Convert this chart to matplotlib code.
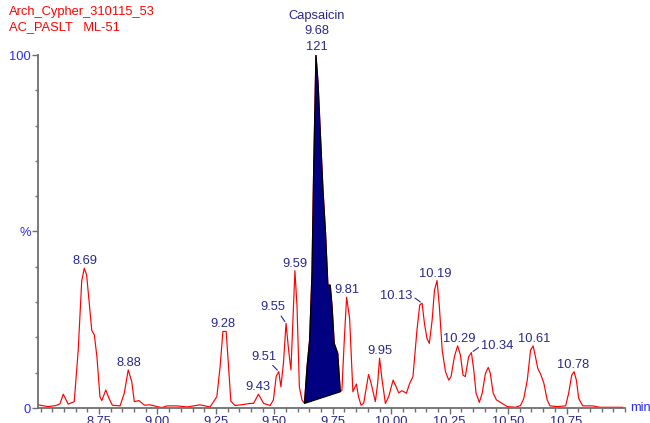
import matplotlib
matplotlib.use("Agg")
import matplotlib.pyplot as plt
from matplotlib.ticker import MultipleLocator, FixedLocator

plt.rcParams['font.family'] = ['Liberation Sans', 'DejaVu Sans']

# Chromatogram trace (retention time in min, relative intensity %)
times = [8.489, 8.532, 8.566, 8.583, 8.597, 8.618, 8.644, 8.661, 8.676, 8.687,
         8.697, 8.711, 8.719, 8.730, 8.741, 8.754, 8.762, 8.779, 8.793, 8.807,
         8.840, 8.858, 8.875, 8.890, 8.901, 8.921, 8.944, 8.968, 9.018, 9.041,
         9.084, 9.127, 9.182, 9.225, 9.254, 9.268, 9.280, 9.294, 9.304, 9.314,
         9.332, 9.368, 9.397, 9.411, 9.432, 9.454, 9.482, 9.496, 9.508, 9.519,
         9.528, 9.539, 9.550, 9.561, 9.571, 9.579, 9.588, 9.597, 9.607, 9.618,
         9.629, 9.640, 9.651, 9.661, 9.668, 9.675, 9.678, 9.687, 9.696, 9.708,
         9.719, 9.729, 9.739, 9.747, 9.756, 9.771, 9.782, 9.789, 9.799, 9.809,
         9.822, 9.836, 9.851, 9.860, 9.871, 9.882, 9.894, 9.903, 9.914, 9.932,
         9.942, 9.950, 9.961, 9.975, 9.989, 10.008, 10.021, 10.032, 10.046, 10.065,
         10.079, 10.093, 10.110, 10.122, 10.132, 10.142, 10.153, 10.163, 10.175, 10.185,
         10.196, 10.206, 10.218, 10.232, 10.246, 10.256, 10.270, 10.284, 10.296, 10.307,
         10.317, 10.331, 10.343, 10.353, 10.363, 10.377, 10.389, 10.403, 10.415, 10.424,
         10.436, 10.450, 10.467, 10.496, 10.532, 10.553, 10.567, 10.582, 10.596, 10.607,
         10.617, 10.627, 10.639, 10.653, 10.667, 10.679, 10.710, 10.746, 10.759, 10.772,
         10.782, 10.792, 10.802, 10.819, 10.862, 10.891, 10.990]
intensity = [0.9, 0.4, 0.7, 1.2, 3.9, 1.1, 1.8, 16.4, 36.0, 39.6,
             37.7, 27.8, 22.0, 20.7, 14.5, 3.2, 2.1, 5.1, 2.7, 0.8,
             0.6, 4.2, 10.8, 7.5, 1.8, 2.1, 0.8, 0.9, 0.1, 0.6,
             0.6, 0.3, 0.9, 0.3, 3.2, 11.7, 21.7, 21.7, 11.7, 1.9,
             0.7, 1.0, 1.3, 1.3, 3.9, 1.3, 0.7, 2.3, 9.0, 10.3,
             6.0, 12.7, 24.0, 16.4, 10.8, 24.0, 38.9, 28.7, 6.0, 2.3,
             1.3, 11.7, 19.3, 38.0, 66.5, 90.0, 100.0, 92.0, 78.8, 61.8,
             49.5, 34.8, 34.8, 28.7, 18.3, 15.5, 4.6, 5.0, 19.0, 31.4,
             25.4, 4.6, 6.8, 3.2, 0.8, 1.3, 6.0, 9.5, 7.0, 1.8,
             7.0, 14.1, 7.9, 1.3, 3.2, 7.9, 6.0, 4.3, 4.9, 4.2,
             7.0, 8.9, 22.0, 29.2, 29.7, 24.0, 19.7, 18.3, 24.9, 33.4,
             36.1, 28.7, 16.4, 10.3, 7.9, 8.9, 14.5, 17.6, 15.0, 9.3,
             8.9, 14.5, 15.7, 10.8, 4.2, 1.6, 4.2, 9.8, 11.5, 9.8,
             4.2, 2.3, 1.6, 0.4, 0.2, 0.7, 2.7, 7.9, 16.4, 17.6,
             14.5, 11.2, 9.6, 7.0, 2.3, 0.6, 0.4, 0.6, 4.2, 9.3,
             10.3, 7.9, 2.7, 0.6, 0.6, 0.2, 0.2]

# Integrated capsaicin peak window
fill_start = 9.629
fill_end = 9.782

# Peak labels placed straight above the apex
peak_labels = ['8.69', '8.88', '9.28', '9.43', '9.59', '9.81', '9.95',
               '10.19', '10.29', '10.61', '10.78']
peak_heights = [39.6, 10.8, 21.7, 3.9, 38.9, 31.4, 14.1, 36.1, 17.6, 17.6, 10.3]

# Peak labels drawn with a leader line
leader_labels = ['9.51', '9.55', '10.13', '10.34']
leader_times = [9.519, 9.550, 10.132, 10.343]
leader_heights = [10.3, 24.0, 29.7, 15.7]

main_name = 'Capsaicin'
main_time = '9.68'
main_height = '121'

navy = '#28288c'
blue = '#2a2aff'
grey = '#6e6e6e'
fs = 9.3

fig = plt.figure(figsize=(6.5, 4.23), dpi=100)
ax = fig.add_axes([38 / 650, 15 / 423, 587 / 650, 353 / 423])

ax.plot(times, intensity, color='#ff0000', lw=0.85, zorder=2)

# filled capsaicin peak, closed by a straight baseline
seg_t = [t for t in times if fill_start <= t <= fill_end]
seg_i = [v for t, v in zip(times, intensity) if fill_start <= t <= fill_end]
ax.fill(seg_t, seg_i, facecolor='#000080', edgecolor='black', lw=0.9, zorder=3)

for lab, h in zip(peak_labels, peak_heights):
    ax.annotate(lab, xy=(float(lab), h), xytext=(0, 7), textcoords='offset pixels',
                ha='center', va='center', fontsize=fs, color=navy)

offsets = [(-15, 15), (-13, 16), (-26, 7), (26, 7)]
rels = [(0.75, 0.0), (0.75, 0.0), (1.0, 0.5), (0.0, 0.5)]
for lab, t, h, off, rp in zip(leader_labels, leader_times, leader_heights, offsets, rels):
    ax.annotate(lab, xy=(t, h), xytext=off, textcoords='offset pixels',
                ha='center', va='center', fontsize=fs, color=navy,
                arrowprops=dict(arrowstyle='-', color=navy, lw=0.8,
                                shrinkA=0, shrinkB=1.5, relpos=rp))

for txt, dy in zip([main_name, main_time, main_height], [39, 23.5, 8.5]):
    ax.annotate(txt, xy=(float(main_time), 100), xytext=(0, dy),
                textcoords='offset pixels', ha='center', va='center',
                fontsize=fs, color=navy, annotation_clip=False)

fig.text(9 / 650, 1 - 12 / 423, 'Arch_Cypher_310115_53', color='#ff0000',
         fontsize=fs, va='center', ha='left')
fig.text(9 / 650, 1 - 27 / 423, 'AC_PASLT   ML-51', color='#ff0000',
         fontsize=fs, va='center', ha='left')

ax.set_xlim(8.489, 11.0)
ax.set_ylim(0, 100)

ax.xaxis.set_major_locator(FixedLocator([8.75, 9.0, 9.25, 9.5, 9.75, 10.0, 10.25, 10.5, 10.75]))
ax.xaxis.set_minor_locator(MultipleLocator(0.05))
ax.xaxis.set_major_formatter(plt.FuncFormatter(lambda v, p: f'{v:.2f}'))
ax.set_yticks([0, 50, 100])
ax.set_yticklabels(['0', '%', '100'])
ax.yaxis.set_minor_locator(MultipleLocator(10))

for s in ['top', 'right']:
    ax.spines[s].set_visible(False)
for s in ['left', 'bottom']:
    ax.spines[s].set_color(grey)
    ax.spines[s].set_linewidth(1.3)

ax.tick_params(axis='x', which='major', length=4, width=1, color=grey,
               labelsize=fs, labelcolor=navy, pad=2)
ax.tick_params(axis='x', which='minor', length=3, width=1, color=grey)
ax.tick_params(axis='y', which='major', length=4, width=1, color=grey,
               labelsize=fs, labelcolor=blue, pad=1)
ax.tick_params(axis='y', which='minor', length=2.5, width=1, color=grey)

ax.text(1.008, 0, 'min', transform=ax.transAxes, color=blue, fontsize=fs,
        ha='left', va='center')

fig.savefig('out.png', dpi=100)
